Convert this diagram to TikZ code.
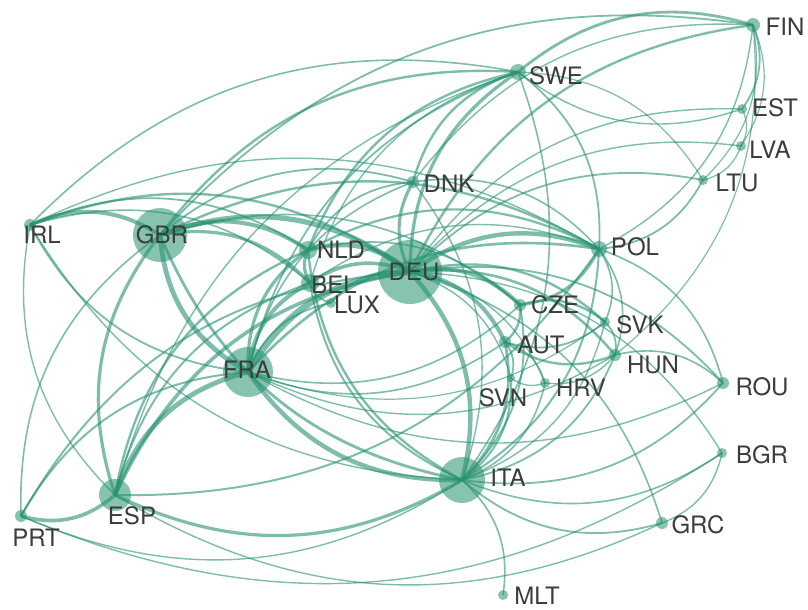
\documentclass[tikz,border=0pt]{standalone}
\usepackage{fontspec}
\setmainfont{TeX Gyre Heros}
\usetikzlibrary{calc,positioning,backgrounds}
\definecolor{tradegreen}{RGB}{38,145,112}
\definecolor{labelgray}{RGB}{60,60,60}

\begin{document}
\begin{tikzpicture}[x=0.5pt,y=0.5pt,
        country/.style={circle,fill=tradegreen,fill opacity=0.55,inner sep=0pt,minimum size=#1},
        link/.style={draw=tradegreen,draw opacity=0.6,bend left=28},
        tag/.style={text=labelgray,font=\fontsize{12}{14}\selectfont,inner sep=0pt}]
        %画布大小
        
        \useasboundingbox (0,0) rectangle (808,-610);
        
        % 国家 (名字/x/y/半径)
        \foreach \n/\x/\y/\r in 
        {FIN/753/25/7, SWE/518/72/8, EST/742/109/5, LVA/741/146/5, LTU/703/180/5,
         DNK/413/182/6, IRL/30/225/6, GBR/160/235/27, NLD/308/250/9, POL/599/249/8,
         DEU/410/272/32, BEL/310/283/9, LUX/331/303/5, CZE/520/305/6, SVK/605/322/5,
         AUT/505/342/6, HUN/615/355/6, FRA/248/372/25, SVN/511/378/4, HRV/545/383/5,
         ROU/723/383/6, BGR/722/453/5, ITA/462/480/23, ESP/115/495/16, PRT/21/516/6,
         GRC/662/523/6, MLT/503/595/5}
        {
            \node[country=\r] (\n) at (\x,-\y) {};
        };
        
        % 贸易连线 (起点/终点/粗细)
        \begin{scope}[on background layer]
        \foreach \a/\b/\w in 
        {FRA/DEU/3.2, GBR/DEU/2.6, FRA/GBR/2.4, NLD/DEU/2.4, DEU/ITA/2.2, ESP/FRA/2.4,
         ITA/FRA/2.2, IRL/GBR/2.0, DEU/POL/2.2, DEU/CZE/2.0, DEU/AUT/2.0, ESP/PRT/1.8,
         BEL/DEU/1.8, FRA/BEL/2.0, BEL/NLD/1.6, GBR/NLD/2.0, GBR/BEL/1.6, DEU/SWE/1.6,
         SWE/FIN/1.4, DEU/DNK/1.6, DNK/SWE/1.2, ITA/ESP/1.6, ESP/DEU/1.8, ESP/GBR/1.6,
         AUT/ITA/1.4, SVN/ITA/1.0, HUN/AUT/1.2, CZE/SVK/1.2, POL/CZE/1.4, SVK/HUN/0.9,
         DEU/HUN/1.3, DEU/SVK/1.2, GBR/POL/1.2, FRA/NLD/1.6, ITA/GBR/1.4, ITA/NLD/1.2,
         ITA/BEL/1.0, FRA/LUX/0.9, LUX/BEL/0.9, LUX/DEU/1.0, FRA/POL/1.3, POL/ESP/1.0,
         POL/ITA/1.0, HUN/ITA/0.9, CZE/ITA/0.9, HRV/ITA/0.8, GRC/ITA/0.9, BGR/ITA/0.8,
         ROU/ITA/0.9, ITA/MLT/0.8, GRC/ESP/0.7, BGR/PRT/0.7, IRL/SWE/0.8, GBR/SWE/1.2,
         GBR/FIN/0.9, NLD/SWE/1.2, FRA/SWE/0.9, SWE/POL/0.9, EST/SWE/0.7, FIN/EST/0.9,
         DEU/FIN/1.2, FIN/POL/0.7, FIN/LTU/0.6, FIN/LVA/0.6, FIN/HUN/0.6, LTU/POL/0.9,
         DEU/LTU/0.9, DEU/LVA/0.7, DEU/EST/0.7, POL/SVK/0.8, POL/HUN/0.8, POL/ROU/0.8,
         HUN/ROU/0.8, DEU/ROU/0.9, ROU/FRA/0.7, DEU/BGR/0.7, BGR/GRC/0.7, DEU/GRC/0.8,
         CZE/AUT/1.2, AUT/SVN/0.9, AUT/HRV/0.7, SVK/AUT/0.9, HRV/SVN/0.7, HUN/HRV/0.7,
         NLD/POL/1.1, ESP/NLD/1.2, ESP/BEL/1.0, IRL/NLD/0.9, IRL/DEU/1.2, FRA/IRL/0.9,
         IRL/BEL/0.8, ESP/IRL/0.7, ITA/IRL/0.7, IRL/POL/0.7, PRT/GBR/0.8, PRT/FRA/1.0,
         PRT/DEU/1.0, ITA/PRT/0.7, NLD/DNK/0.9, GBR/DNK/0.9, FRA/DNK/0.8, DNK/POL/0.8,
         DNK/FIN/0.7, DNK/ITA/0.7, SWE/ITA/0.8, ESP/SWE/0.7, BEL/SWE/0.7, SWE/LTU/0.6,
         HUN/FRA/0.7, CZE/FRA/0.8, AUT/FRA/0.8, SVK/FRA/0.6, GBR/CZE/0.8, SVK/ITA/0.7,
         DEU/SVN/0.7, DEU/HRV/0.7, EST/LVA/0.6, LVA/LTU/0.6, NLD/CZE/0.8, BEL/POL/0.7}
        {
            \draw[link,line width=\w pt] (\a.center) to (\b.center);
        };
        \end{scope}
        
        % 标签
        \foreach \n/\x/\y in 
        {FIN/785/27, SWE/556/76, EST/775/108, LVA/770/150, LTU/737/183, DNK/449/184,
         IRL/42/235, GBR/162/235, NLD/341/250, POL/635/247, DEU/414/272, BEL/334/285,
         LUX/357/305, CZE/555/305, SVK/640/325, AUT/541/345, HUN/653/365, FRA/247/370,
         SVN/503/398, HRV/581/388, ROU/762/387, BGR/762/455, ITA/508/478, ESP/132/516,
         PRT/36/538, GRC/698/525, MLT/537/596}
        {
            \node[tag] (l\n) at (\x,-\y) {\n};
        };

    \end{tikzpicture}
\end{document}
